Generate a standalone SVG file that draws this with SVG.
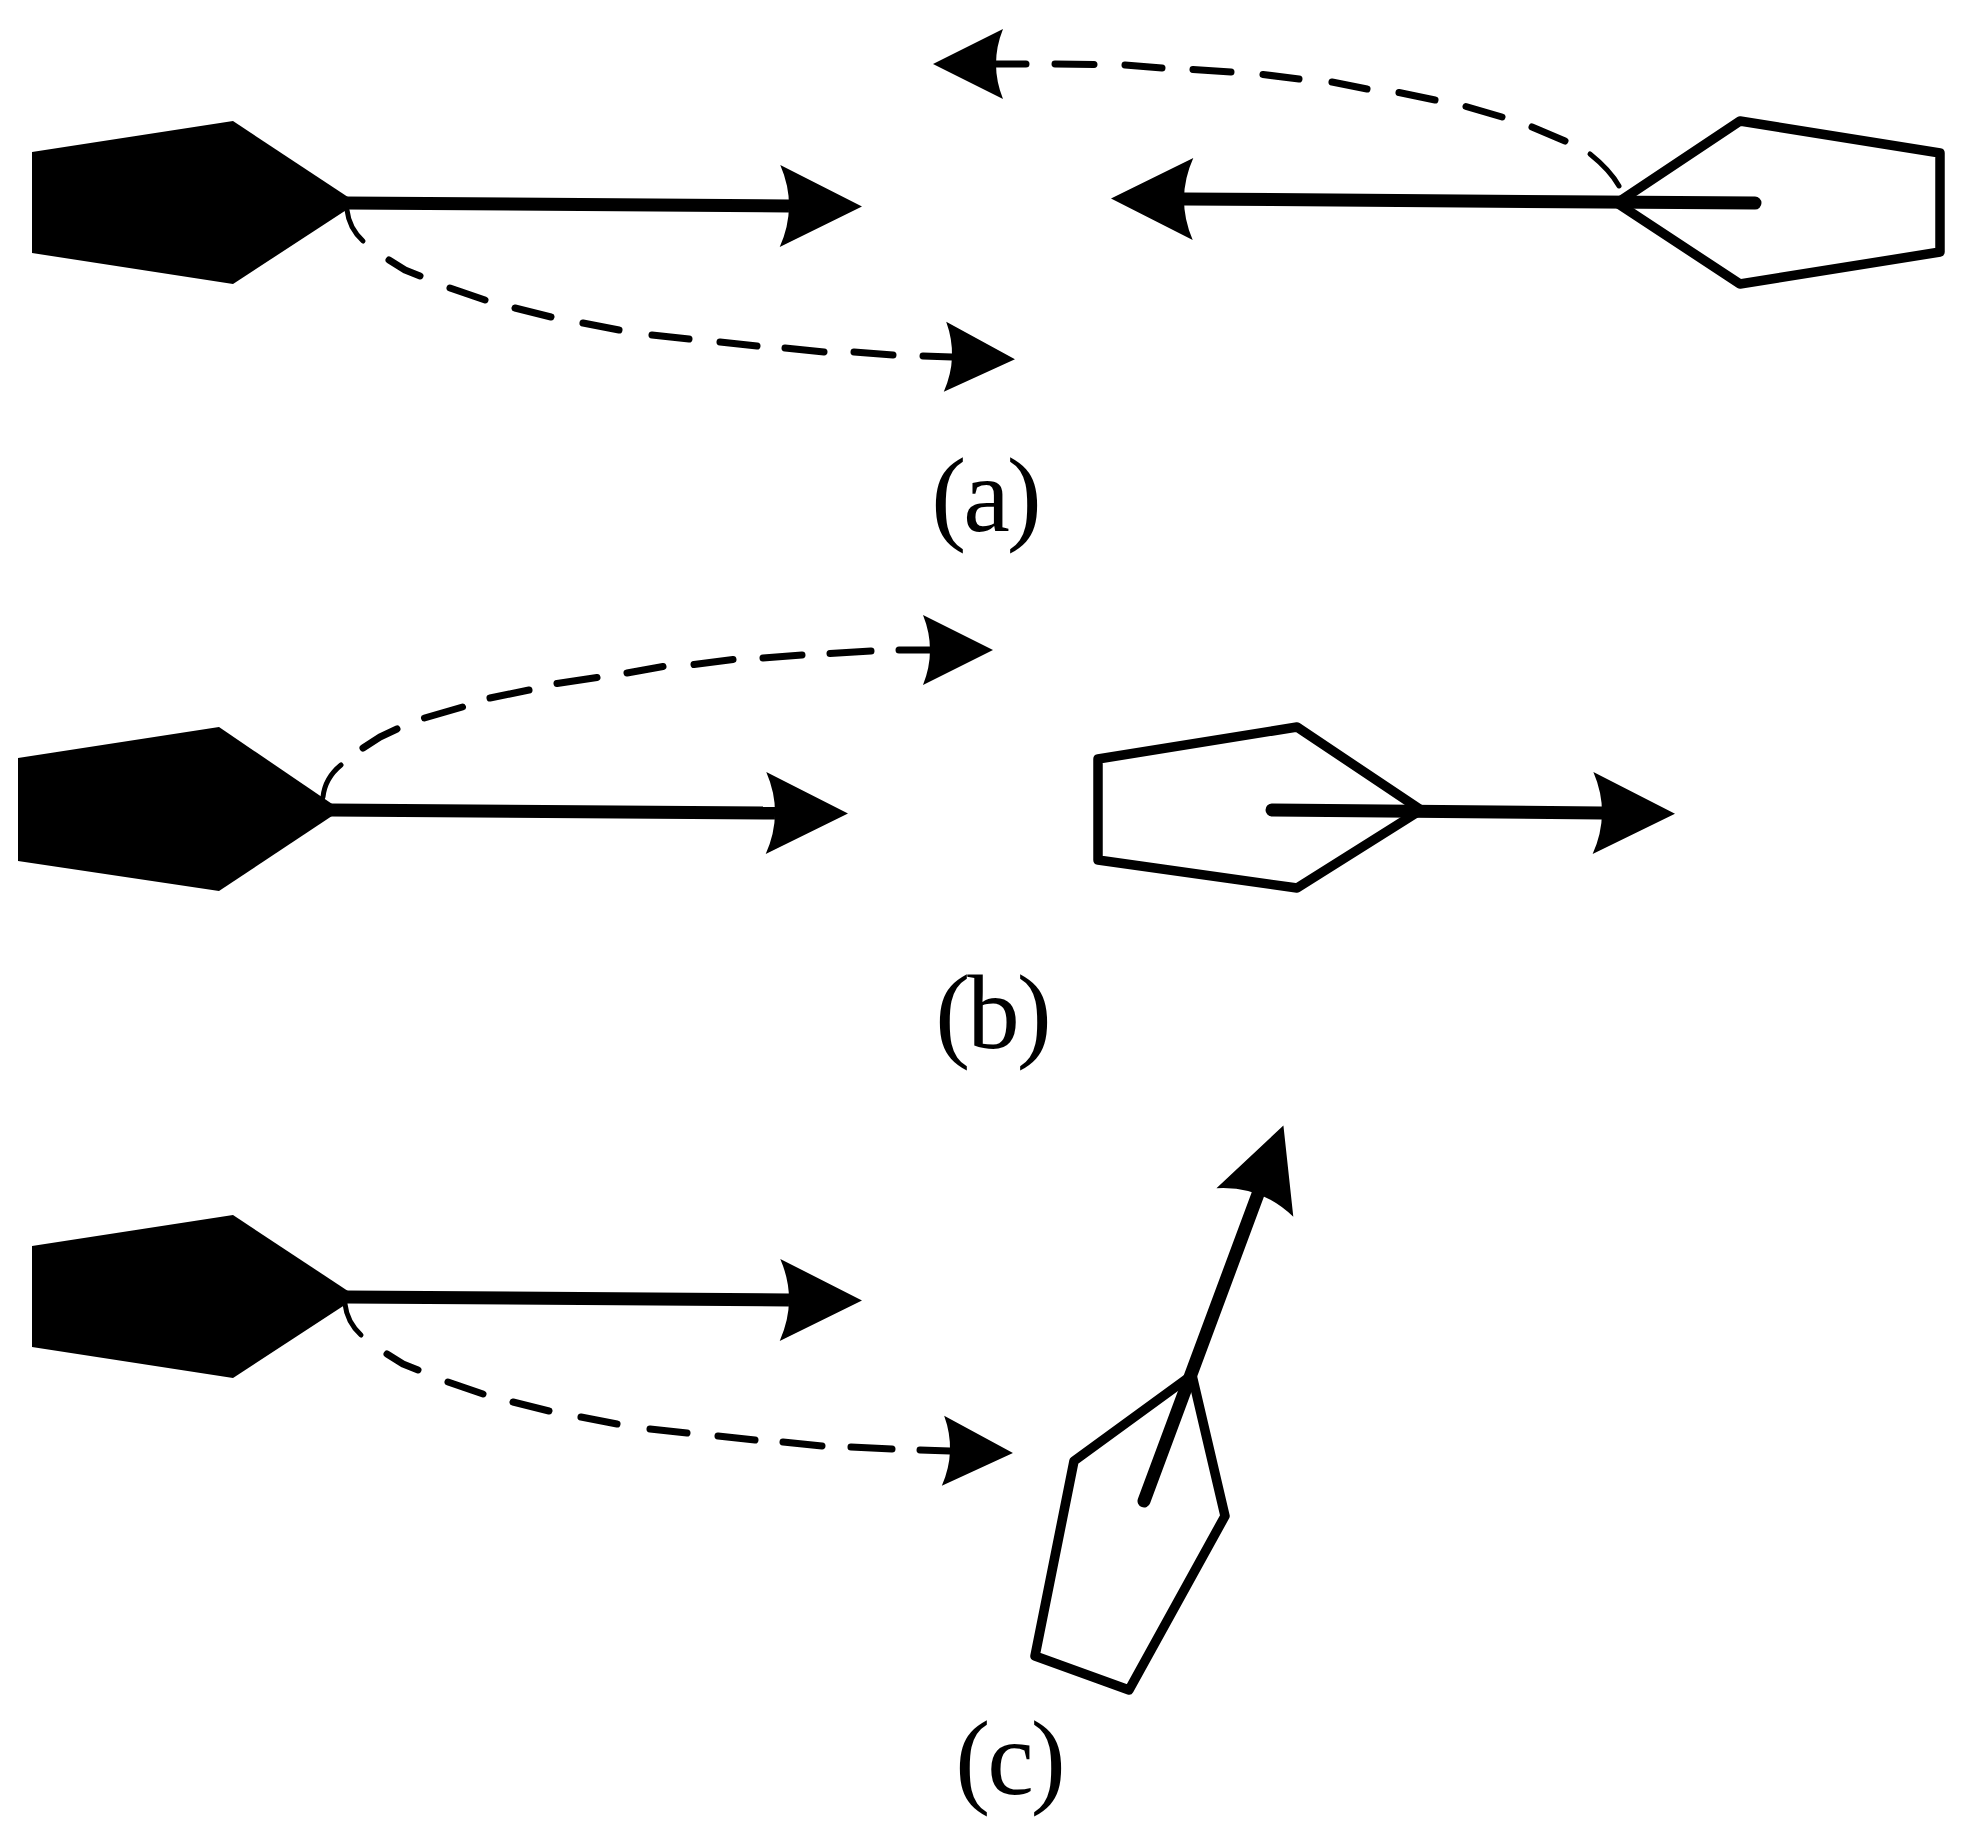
<svg xmlns="http://www.w3.org/2000/svg" width="1971" height="1830" viewBox="0 0 1971 1830">
<style>
.solidshape{fill:#000;stroke:none}
.hollow{fill:none;stroke:#000;stroke-width:9.5;stroke-linejoin:round}
.main{fill:none;stroke:#000;stroke-width:13;stroke-linecap:round}
.root{stroke-linecap:butt}
.dash{fill:none;stroke:#000;stroke-width:7;stroke-linecap:round;stroke-linejoin:round}
.thin{fill:none;stroke:#000;stroke-width:5;stroke-linecap:round}
.lbl{font-family:"Liberation Serif","Times New Roman",serif;font-size:105px;letter-spacing:-3px;fill:#000;text-anchor:middle}
</style>
<defs>
<marker id="big" markerUnits="userSpaceOnUse" markerWidth="84" markerHeight="84" refX="9" refY="41" orient="auto" overflow="visible"><path d="M0,0 L82,41 L0,82 Q18,41 0,0 Z" fill="#000"/></marker>
<marker id="small" markerUnits="userSpaceOnUse" markerWidth="72" markerHeight="72" refX="7" refY="35" orient="auto" overflow="visible"><path d="M0,0 L70,35 L0,70 Q14,35 0,0 Z" fill="#000"/></marker>
</defs>
<rect width="1971" height="1830" fill="#fff"/>
<g id="node-a-left"><polygon class="solidshape" points="32,152 233,121 357,203 233,284 32,253"/></g>
<g id="node-a-right"><polygon class="hollow" points="1617,203 1740,121 1940,153 1940,252 1740,284"/></g>
<g id="node-b-left"><polygon class="solidshape" points="18,758 219,727 341,810 219,891 18,861"/></g>
<g id="node-b-right"><polygon class="hollow" points="1421,810 1297,727 1098,759 1098,860 1297,888"/></g>
<g id="node-c-left"><polygon class="solidshape" points="32,1246 233,1215 357,1297 233,1378 32,1347"/></g>
<g id="node-c-right"><polygon class="hollow" points="1192,1375 1074,1461 1035,1656 1129,1690 1225,1516"/></g>
<g id="connectors">
<path class="main root" d="M345,203 L789,206" marker-end="url(#big)"/>
<path class="thin" d="M347,210 Q349,228 363,241"/>
<path class="dash" d="M389,260 L405,270 L420,276 M450,288 L485,300 M515,308 L551,317 M583,323 L619,330 M652,335 L689,339 M720,342 L757,346 M785,348 L824,352 M854,352 L893,355 M923,356 L952,357" marker-end="url(#small)"/>
<path class="main" d="M1755,203 L1184,199" marker-end="url(#big)"/>
<path class="thin" d="M1590,154 Q1610,170 1619,186"/>
<path class="dash" d="M1565,141 L1532,127 M1502,117 L1466,106.500 M1435,100 L1399,92.500 M1367,89 L1332,82 M1299,79 L1263,74.500 M1231,72 L1193,69.500 M1162,68 L1125,65 M1094,64.500 L1055,64 M1026,64 L996,64" marker-end="url(#small)"/>
<path class="main root" d="M330,810 L775,813" marker-end="url(#big)"/>
<path class="thin" d="M323,797 Q325,778 341,765"/>
<path class="dash" d="M363,748 L380,737 L397,729 M424.500,718 L462.500,707 M490,698 L529,690 M557,683.500 L597,677.500 M627,673 L663,666.500 M694,664.500 L733,659.500 M763,658 L802,655 M830,653.500 L871,651 M899,650 L930,650" marker-end="url(#small)"/>
<path class="main" d="M1272,810 L1602,813" marker-end="url(#big)"/>
<path class="main root" d="M345,1297 L789,1300" marker-end="url(#big)"/>
<path class="thin" d="M345,1304 Q347,1322 361,1335"/>
<path class="dash" d="M387,1354 L403,1364 L418,1370 M448,1382 L483,1394 M513,1402 L549,1411 M581,1417 L617,1424 M650,1429 L687,1433 M718,1436 L755,1440 M783,1442 L822,1446 M851,1447 L892,1449 M920,1450 L950,1451" marker-end="url(#small)"/>
<path class="main" d="M1144,1501 L1258,1194" marker-end="url(#big)"/>
</g>
<g id="labels">
<text class="lbl" x="985" y="531">(a)</text>
<text class="lbl" x="992" y="1048">(b)</text>
<text class="lbl" x="1009" y="1794">(c)</text>
</g>
</svg>
